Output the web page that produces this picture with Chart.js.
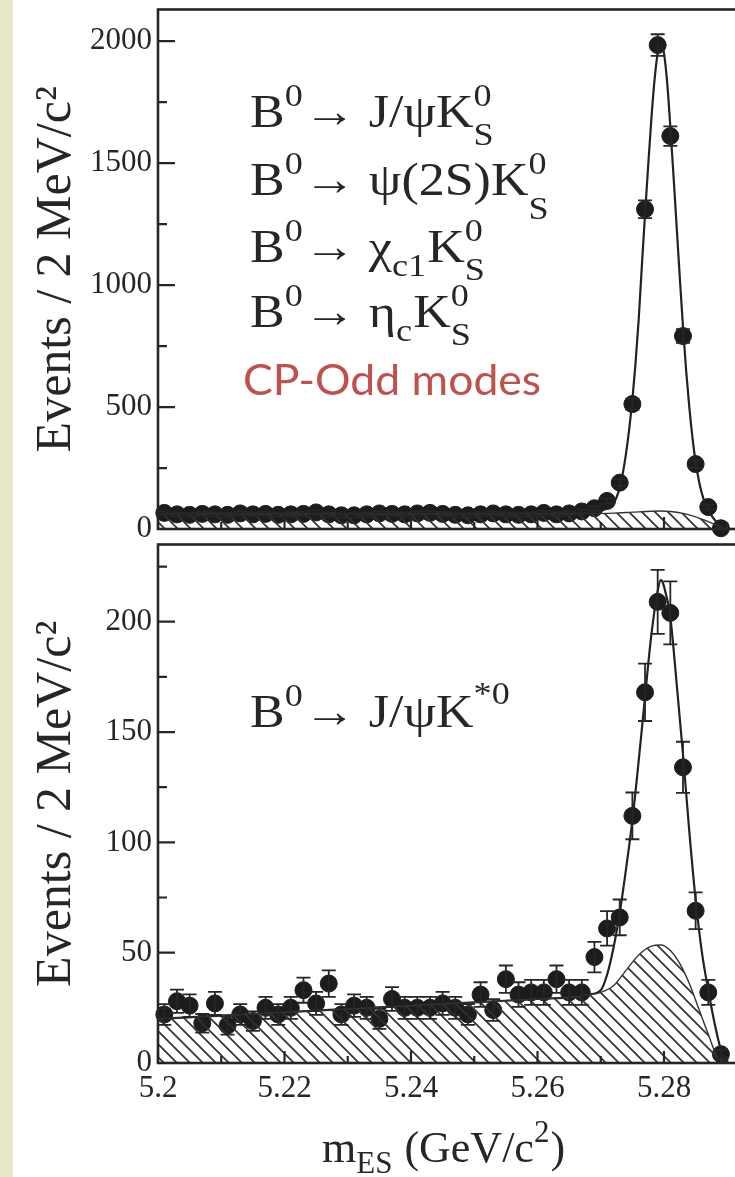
<!DOCTYPE html>
<html>
<head>
<meta charset="utf-8">
<script src="https://cdn.jsdelivr.net/npm/chart.js@4.4.1/dist/chart.umd.min.js"></script>
<style>
  html, body { margin: 0; padding: 0; background: #fff; overflow: hidden; width: 735px; height: 1177px; }
  #strip { position: absolute; left: 0; top: 0; width: 13px; height: 1177px; background: #e8e7c5; }
  .panel { position: absolute; left: 0; width: 800px; }
  #top { top: 0; height: 540px; }
  #bottom { top: 535px; height: 642px; }
</style>
</head>
<body>
<div class="panel" id="top"><canvas id="cpOddChart"></canvas></div>
<div class="panel" id="bottom"><canvas id="kstarChart"></canvas></div>
<div id="strip"></div>
<script>
// bin centres, 2 MeV/c^2 bins
const binCenters = [5.201, 5.203, 5.205, 5.207, 5.209, 5.211, 5.213, 5.215, 5.217, 5.219,
  5.221, 5.223, 5.225, 5.227, 5.229, 5.231, 5.233, 5.235, 5.237, 5.239,
  5.241, 5.243, 5.245, 5.247, 5.249, 5.251, 5.253, 5.255, 5.257, 5.259,
  5.261, 5.263, 5.265, 5.267, 5.269, 5.271, 5.273, 5.275, 5.277, 5.279,
  5.281, 5.283, 5.285, 5.287, 5.289];

// top panel: CP-odd modes
const cpOddEvents = [66, 60, 58, 62, 60, 58, 64, 60, 62, 58,
  60, 62, 68, 60, 56, 56, 60, 64, 62, 60,
  64, 66, 62, 58, 56, 60, 64, 60, 58, 60,
  66, 60, 64, 72, 85, 115, 190, 512, 1311, 1984,
  1611, 791, 266, 90, 3];
const cpOddErrors = [8, 8, 8, 8, 8, 8, 8, 8, 8, 8,
  8, 8, 8, 8, 8, 8, 8, 8, 8, 8,
  8, 8, 8, 8, 8, 8, 8, 8, 8, 8,
  8, 8, 8, 8.5, 9.2, 10.7, 13.8, 22.6, 36.2, 44.5,
  40.1, 28.1, 16.3, 9.5, 1.7];
const cpOddFitX = [5.200, 5.210, 5.220, 5.230, 5.240, 5.250, 5.260, 5.265, 5.268, 5.270, 5.271,
  5.272, 5.2725, 5.273, 5.2735, 5.274, 5.2745, 5.275, 5.2755, 5.276, 5.2765,
  5.277, 5.2775, 5.278, 5.2785, 5.279, 5.2795, 5.280, 5.2805, 5.281, 5.2815,
  5.282, 5.2825, 5.283, 5.2835, 5.284, 5.2845, 5.285, 5.2855, 5.286, 5.2865,
  5.287, 5.2875, 5.288, 5.2885, 5.289, 5.2895, 5.290];
const cpOddFitY = [64, 63, 63, 62, 62, 62, 63, 64, 68, 75, 85,
  105, 130, 170, 230, 310, 410, 530, 680, 860, 1080,
  1290, 1490, 1680, 1840, 1950, 1990, 1950, 1830, 1650, 1450,
  1240, 1030, 830, 650, 500, 375, 275, 200, 145, 105,
  78, 56, 38, 24, 12, 4, 0];
const cpOddBkgX = [5.200, 5.220, 5.240, 5.260, 5.268, 5.272, 5.275, 5.278, 5.2795, 5.281, 5.283, 5.285, 5.287, 5.2885, 5.290];
const cpOddBkgY = [62, 62, 62, 62, 63, 65, 69, 73, 74, 72, 64, 50, 30, 14, 0];
const cpOddYTicks = [0, 500, 1000, 1500, 2000];
const cpOddYMinor = [250, 750, 1250, 1750];

// bottom panel: J/psi K*0
const kstarEvents = [22, 28, 26, 18, 27, 17, 22, 19, 25, 22,
  25, 33, 27, 36, 22, 26, 25, 20, 29, 25,
  25, 25, 27, 25, 22, 31, 24, 38, 31, 32,
  32, 38, 32, 32, 48, 61, 66, 112, 168, 209,
  204, 134, 69, 32, 4];
const kstarErrors = [4.7, 5.3, 5.1, 4.2, 5.2, 4.1, 4.7, 4.4, 5, 4.7,
  5, 5.7, 5.2, 6, 4.7, 5.1, 5, 4.5, 5.4, 5,
  5, 5, 5.2, 5, 4.7, 5.6, 4.9, 6.2, 5.6, 5.7,
  5.7, 6.2, 5.7, 5.7, 6.9, 7.8, 8.1, 10.6, 13, 14.5,
  14.3, 11.6, 8.3, 5.7, 2];
const kstarFitX = [5.200, 5.210, 5.220, 5.230, 5.240, 5.250, 5.260, 5.266, 5.268, 5.270,
  5.271, 5.272, 5.273, 5.274, 5.275, 5.276, 5.277, 5.278, 5.279, 5.2795,
  5.280, 5.281, 5.282, 5.283, 5.284, 5.285, 5.286, 5.287, 5.288, 5.289, 5.290];
const kstarFitY = [20, 21.5, 23, 24.5, 26, 27.5, 29, 30, 31, 33,
  40, 52, 68, 88, 110, 137, 166, 194, 214, 219,
  216, 202, 172, 140, 105, 74, 50, 33, 18, 6, 0];
const kstarBkgX = [5.200, 5.210, 5.220, 5.230, 5.240, 5.250, 5.260, 5.266, 5.268, 5.270, 5.272,
  5.274, 5.276, 5.278, 5.2795, 5.281, 5.2825, 5.284, 5.2857, 5.287, 5.2884, 5.290];
const kstarBkgY = [20, 21.5, 23, 24.5, 26, 27.5, 29, 30, 31, 32, 35,
  42, 49, 53, 53.5, 51, 45, 36, 23, 13, 3, 0];
const kstarYTicks = [0, 50, 100, 150, 200];
const kstarYMinor = [25, 75, 125, 175, 225];

const massTicks = [5.2, 5.22, 5.24, 5.26, 5.28];
const massTickLabels = ["5.2", "5.22", "5.24", "5.26", "5.28"];
const massMinor = [5.21, 5.23, 5.25, 5.27, 5.29];

const INK = "#262626";
const SERIF = "'Liberation Serif', 'Times New Roman', serif";
const SANS = "Lato, 'Open Sans', sans-serif";

function toPoints(xs, ys) {
  return xs.map((x, i) => ({ x, y: ys[i] }));
}

function hatchPattern() {
  const size = 13;
  const tile = document.createElement("canvas");
  tile.width = size;
  tile.height = size;
  const g = tile.getContext("2d");
  g.strokeStyle = "#333";
  g.lineWidth = 1.7;
  g.beginPath();
  for (let k = -1; k <= 1; k += 1) {
    g.moveTo(-1, -1 + k * size);
    g.lineTo(size + 1, size + 1 + k * size);
  }
  g.stroke();
  return g.createPattern(tile, "repeat");
}

// text with super/subscripts: {t} plain, {sup, sub} stacked small
function drawRich(ctx, tx) {
  const size = tx.size;
  const family = tx.family || SERIF;
  const small = Math.round(size * 0.7);
  ctx.save();
  ctx.translate(tx.x, tx.y);
  ctx.scale(tx.sx || 1, 1);
  ctx.fillStyle = tx.color || INK;
  ctx.textBaseline = "alphabetic";
  ctx.textAlign = "left";
  let cx = 0;
  tx.parts.forEach((p) => {
    if (p.t) {
      ctx.font = `${size}px ${family}`;
      ctx.fillText(p.t, cx, 0);
      cx += ctx.measureText(p.t).width;
    } else {
      ctx.font = `${small}px ${family}`;
      let w = 0;
      if (p.sup) {
        ctx.fillText(p.sup, cx, -size * (p.supUp || 0.45));
        w = Math.max(w, ctx.measureText(p.sup).width);
      }
      if (p.sub) {
        ctx.fillText(p.sub, cx, size * (p.subDown || 0.4));
        w = Math.max(w, ctx.measureText(p.sub).width);
      }
      cx += w + 1;
    }
  });
  ctx.restore();
}

function panelDecor(cfg) {
  return {
    id: "panelDecor",
    afterDatasetsDraw(chart) {
      const { ctx } = chart;
      const xs = chart.scales.x;
      const ys = chart.scales.y;
      ctx.save();
      ctx.strokeStyle = INK;
      ctx.lineWidth = 1.8;
      cfg.values.forEach((v, i) => {
        const px = xs.getPixelForValue(binCenters[i]);
        const lo = ys.getPixelForValue(Math.max(v - cfg.errors[i], 0));
        const hi = ys.getPixelForValue(v + cfg.errors[i]);
        ctx.beginPath();
        ctx.moveTo(px, lo);
        ctx.lineTo(px, hi);
        ctx.moveTo(px - 7, lo);
        ctx.lineTo(px + 7, lo);
        ctx.moveTo(px - 7, hi);
        ctx.lineTo(px + 7, hi);
        ctx.stroke();
      });
      ctx.restore();
    },
    afterDraw(chart) {
      const { ctx, chartArea } = chart;
      const xs = chart.scales.x;
      const ys = chart.scales.y;
      ctx.save();
      ctx.strokeStyle = INK;
      ctx.lineWidth = 2.2;
      ctx.beginPath();
      cfg.yMajor.forEach((v) => {
        const py = ys.getPixelForValue(v);
        ctx.moveTo(chartArea.left, py);
        ctx.lineTo(chartArea.left + 17, py);
      });
      cfg.yMinor.forEach((v) => {
        const py = ys.getPixelForValue(v);
        ctx.moveTo(chartArea.left, py);
        ctx.lineTo(chartArea.left + 9, py);
      });
      massTicks.forEach((v) => {
        const px = xs.getPixelForValue(v);
        ctx.moveTo(px, chartArea.bottom);
        ctx.lineTo(px, chartArea.bottom - 12);
      });
      massMinor.forEach((v) => {
        const px = xs.getPixelForValue(v);
        ctx.moveTo(px, chartArea.bottom);
        ctx.lineTo(px, chartArea.bottom - 7);
      });
      ctx.stroke();
      ctx.lineWidth = 2.6;
      ctx.strokeRect(chartArea.left, chartArea.top, chartArea.right - chartArea.left, chartArea.bottom - chartArea.top);
      ctx.restore();
      cfg.texts.forEach((tx) => drawRich(ctx, tx));
    },
  };
}

function yAxis(max, ticks) {
  return {
    min: 0,
    max,
    afterFit: (s) => {
      s.width = 158;
      s.paddingTop = 0;
      s.paddingBottom = 0;
    },
    afterBuildTicks: (s) => {
      s.ticks = ticks.map((v) => ({ value: v }));
    },
    grid: { display: false, drawTicks: false },
    border: { display: false },
    ticks: { color: INK, font: { family: SERIF, size: 31 }, padding: 6, callback: (value) => String(value) },
    title: {
      display: true,
      text: "Events / 2 MeV/c²",
      color: INK,
      font: { family: SERIF, size: 50 },
      padding: { top: 27, bottom: 0 },
    },
  };
}

function datasets(bkgX, bkgY, fitX, fitY, values, hatch) {
  return [
    {
      type: "line",
      data: toPoints(bkgX, bkgY),
      borderColor: "#333",
      borderWidth: 1.4,
      backgroundColor: hatch,
      fill: "origin",
      pointRadius: 0,
      cubicInterpolationMode: "monotone",
    },
    {
      type: "line",
      data: toPoints(fitX, fitY),
      borderColor: "#222",
      borderWidth: 2.2,
      fill: false,
      pointRadius: 0,
      cubicInterpolationMode: "monotone",
    },
    {
      type: "scatter",
      data: toPoints(binCenters, values),
      backgroundColor: "#1c1c1c",
      borderColor: "#1c1c1c",
      pointRadius: 8.5,
      pointHoverRadius: 8.5,
      showLine: false,
      clip: false,
    },
  ];
}

const hatch = hatchPattern();

new Chart(document.getElementById("cpOddChart"), {
  type: "scatter",
  data: { datasets: datasets(cpOddBkgX, cpOddBkgY, cpOddFitX, cpOddFitY, cpOddEvents, hatch) },
  options: {
    responsive: true,
    maintainAspectRatio: false,
    animation: false,
    events: [],
    layout: { padding: { top: 9, right: 9, bottom: 11, left: 0 } },
    plugins: { legend: { display: false }, tooltip: { enabled: false } },
    scales: {
      x: { type: "linear", display: false, min: 5.2, max: 5.3 },
      y: yAxis(2130, cpOddYTicks),
    },
  },
  plugins: [
    panelDecor({
      values: cpOddEvents,
      errors: cpOddErrors,
      yMajor: cpOddYTicks,
      yMinor: cpOddYMinor,
      texts: [
        { x: 250, y: 127, size: 46, sx: 1.13, parts: [{ t: "B" }, { sup: "0" }, { t: "→ J/ψK" }, { sup: "0", sub: "S" }] },
        { x: 250, y: 195, size: 46, sx: 1.13, parts: [{ t: "B" }, { sup: "0" }, { t: "→ ψ(2S)K" }, { sup: "0", sub: "S", subDown: 0.52 }] },
        { x: 250, y: 262, size: 46, sx: 1.13, parts: [{ t: "B" }, { sup: "0" }, { t: "→ χ" }, { sub: "c1", subDown: 0.3 }, { t: "K" }, { sup: "0", sub: "S" }] },
        { x: 250, y: 327, size: 46, sx: 1.13, parts: [{ t: "B" }, { sup: "0" }, { t: "→ η" }, { sub: "c", subDown: 0.3 }, { t: "K" }, { sup: "0", sub: "S" }] },
        { x: 243, y: 395, size: 42, sx: 1.06, family: SANS, color: "#c0504d", parts: [{ t: "CP-Odd modes" }] },
      ],
    }),
  ],
});

new Chart(document.getElementById("kstarChart"), {
  type: "scatter",
  data: { datasets: datasets(kstarBkgX, kstarBkgY, kstarFitX, kstarFitY, kstarEvents, hatch) },
  options: {
    responsive: true,
    maintainAspectRatio: false,
    animation: false,
    events: [],
    layout: { padding: { top: 6, right: 9, bottom: 0, left: 0 } },
    plugins: { legend: { display: false }, tooltip: { enabled: false } },
    scales: {
      x: {
        type: "linear",
        min: 5.2,
        max: 5.3,
        afterFit: (s) => {
          s.height = 114;
          s.paddingLeft = 0;
          s.paddingRight = 0;
        },
        afterBuildTicks: (s) => {
          s.ticks = massTicks.map((v) => ({ value: v }));
        },
        grid: { display: false, drawTicks: false },
        border: { display: false },
        ticks: {
          color: INK,
          font: { family: SERIF, size: 31 },
          padding: 7,
          maxRotation: 0,
          autoSkip: false,
          callback: (value, index) => massTickLabels[index],
        },
      },
      y: yAxis(235, kstarYTicks),
    },
  },
  plugins: [
    panelDecor({
      values: kstarEvents,
      errors: kstarErrors,
      yMajor: kstarYTicks,
      yMinor: kstarYMinor,
      texts: [
        { x: 250, y: 192, size: 46, sx: 1.13, parts: [{ t: "B" }, { sup: "0" }, { t: "→ J/ψK" }, { sup: "*0", supUp: 0.5 }] },
        { x: 322, y: 627, size: 44, parts: [{ t: "m" }, { sub: "ES", subDown: 0.24 }, { t: " (GeV/c" }, { sup: "2" }, { t: ")" }] },
      ],
    }),
  ],
});
</script>
</body>
</html>
